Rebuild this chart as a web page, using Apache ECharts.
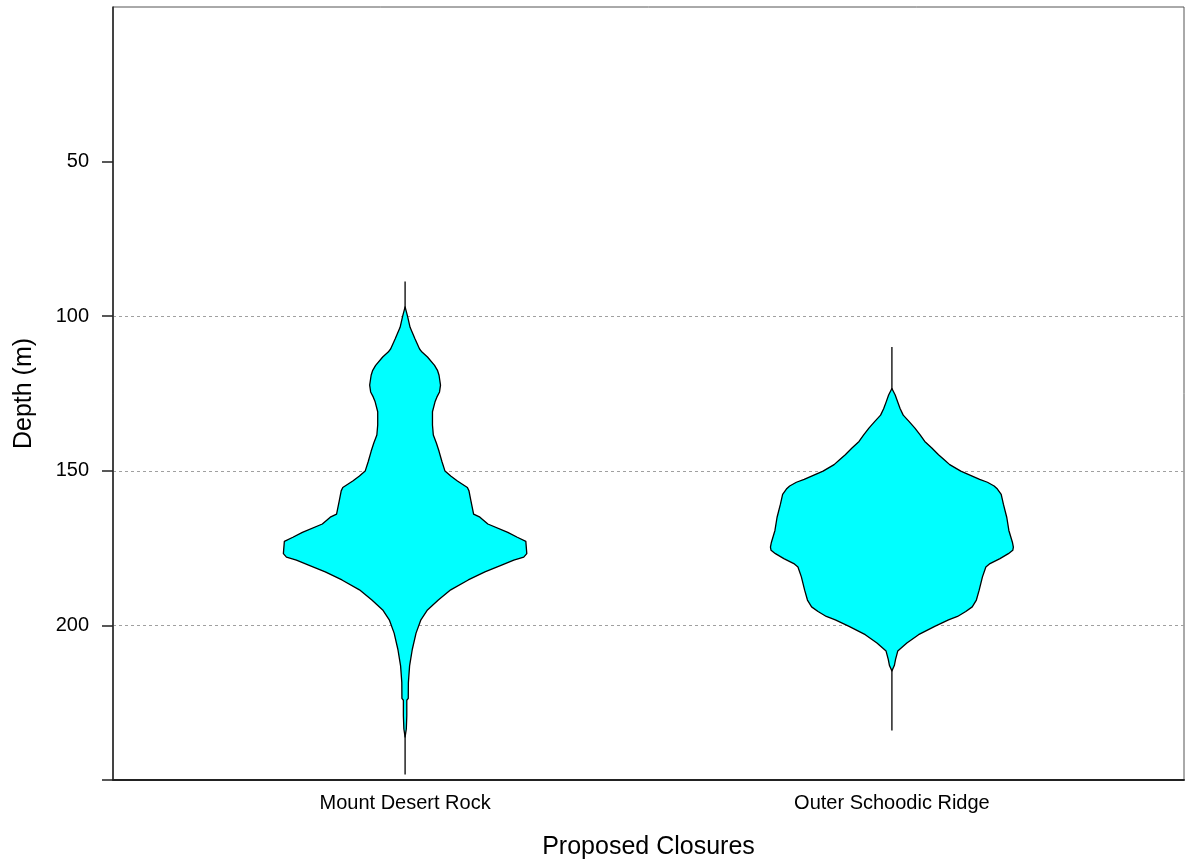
<!DOCTYPE html>
<html><head><meta charset="utf-8">
<script src="https://cdn.jsdelivr.net/npm/echarts@6/dist/echarts.min.js"></script>
<style>html,body{margin:0;padding:0;background:#fff}#chart{width:1185px;height:865px}</style>
</head><body><div id="chart"></div>
<script>
const categories = ['Mount Desert Rock', 'Outer Schoodic Ridge'];
const yTickLabels = [50, 100, 150, 200];

// Mount Desert Rock: depth (m) and relative density (violin half width, max = 1)
const mdrDepth = [97, 100, 103.6, 107.4, 110.6, 111.6, 113.2, 115.9, 117.5, 119.1, 122.3, 124.5, 126.1, 127.7, 130.9, 135.2, 138.4, 141, 143.7, 146.9, 150.1, 151.7, 153.3, 155.4, 156.5, 159.7, 164, 165, 167.2, 169.9, 171.5, 172.8, 176.8, 177.9, 178.9, 180.5, 182.7, 185.3, 188.5, 191.8, 195, 198.2, 202.5, 207.8, 213.1, 218.5, 223.6, 224.2, 229.2, 233.5, 236.1];
const mdrDensity = [0, 0.020, 0.041, 0.082, 0.119, 0.139, 0.184, 0.242, 0.266, 0.279, 0.291, 0.283, 0.262, 0.246, 0.225, 0.225, 0.232, 0.257, 0.279, 0.302, 0.328, 0.375, 0.430, 0.512, 0.525, 0.541, 0.563, 0.615, 0.680, 0.844, 0.922, 0.992, 1.0, 0.975, 0.893, 0.793, 0.656, 0.519, 0.375, 0.273, 0.184, 0.130, 0.090, 0.059, 0.037, 0.027, 0.026, 0.014, 0.014, 0.010, 0];
const mdrRange = [88.8, 248.2];

// Outer Schoodic Ridge
const osrDepth = [123.4, 125.5, 127.7, 129.9, 132, 134.1, 136.2, 138.4, 140.5, 142.6, 144.8, 146.4, 148, 150.1, 152.8, 153.7, 154.9, 155.9, 157.6, 160.8, 165.1, 169.3, 173.1, 174.7, 175.7, 176.8, 178.4, 180, 181.1, 184.3, 188.6, 191.8, 194, 195.5, 197.1, 198.2, 200.3, 203, 205.7, 208.3, 211, 213, 214.7];
const osrDensity = [0, 0.027, 0.047, 0.068, 0.093, 0.142, 0.189, 0.232, 0.270, 0.328, 0.383, 0.430, 0.475, 0.566, 0.721, 0.785, 0.840, 0.867, 0.898, 0.916, 0.944, 0.961, 0.990, 0.998, 0.993, 0.957, 0.888, 0.806, 0.772, 0.744, 0.717, 0.694, 0.660, 0.607, 0.539, 0.465, 0.352, 0.219, 0.123, 0.048, 0.030, 0.020, 0];
const osrRange = [110, 234];

const violins = [
  { depth: mdrDepth, density: mdrDensity, range: mdrRange },
  { depth: osrDepth, density: osrDensity, range: osrRange }
];
const HALF_WIDTH = 0.25;
const FONT = 'Liberation Sans, Arial, sans-serif';

const chart = echarts.init(document.getElementById('chart'), null, { renderer: 'canvas' });
chart.setOption({
  animation: false,
  backgroundColor: '#fff',
  grid: { left: 113, right: 1, top: 7, bottom: 81, show: true, borderColor: '#555', borderWidth: 1, containLabel: false },
  xAxis: {
    type: 'value', min: 0.4, max: 2.6,
    name: 'Proposed Closures', nameLocation: 'middle', nameGap: 55,
    nameTextStyle: { fontFamily: FONT, fontSize: 25, color: '#000' },
    axisLine: { show: true, onZero: false, lineStyle: { color: '#222', width: 2 } },
    axisTick: { show: false },
    splitLine: { show: false },
    axisLabel: {
      customValues: categories.map((c, i) => i + 1),
      formatter: v => categories[Math.round(v) - 1] || '',
      fontFamily: FONT, fontSize: 20, color: '#000', margin: 13
    }
  },
  yAxis: {
    type: 'value', inverse: true, min: 0, max: 250, interval: 50,
    name: 'Depth (m)', nameLocation: 'middle', nameGap: 76, nameRotate: 90,
    nameTextStyle: { fontFamily: FONT, fontSize: 25, color: '#000' },
    axisLine: { show: true, onZero: false, lineStyle: { color: '#222', width: 1.5 } },
    axisTick: { show: true, length: 11, customValues: yTickLabels.concat([250]), lineStyle: { color: '#222', width: 1.5 } },
    axisLabel: { customValues: yTickLabels, fontFamily: FONT, fontSize: 20, color: '#000', margin: 24 },
    splitLine: { show: true, showMinLine: false, showMaxLine: false, lineStyle: { color: '#a0a0a0', type: [3, 3], width: 1 } }
  },
  series: [{
    type: 'custom',
    clip: true,
    data: violins.map((v, i) => [i + 1, v.range[0], v.range[1]]),
    renderItem: function (params, api) {
      const pos = api.value(0);
      const v = violins[Math.round(pos) - 1];
      const left = [], right = [];
      v.depth.forEach((d, k) => {
        const w = v.density[k] * HALF_WIDTH;
        left.push(api.coord([pos - w, d]));
        right.push(api.coord([pos + w, d]));
      });
      const pts = left.concat(right.reverse());
      const top = api.coord([pos, api.value(1)]);
      const bot = api.coord([pos, api.value(2)]);
      return {
        type: 'group',
        children: [
          { type: 'line', shape: { x1: top[0], y1: top[1], x2: bot[0], y2: bot[1] }, style: { stroke: '#000', lineWidth: 1.3 } },
          { type: 'polygon', shape: { points: pts }, style: { fill: '#00ffff', stroke: '#000', lineWidth: 1.3, lineJoin: 'round' } }
        ]
      };
    }
  }]
});
</script>
</body></html>
